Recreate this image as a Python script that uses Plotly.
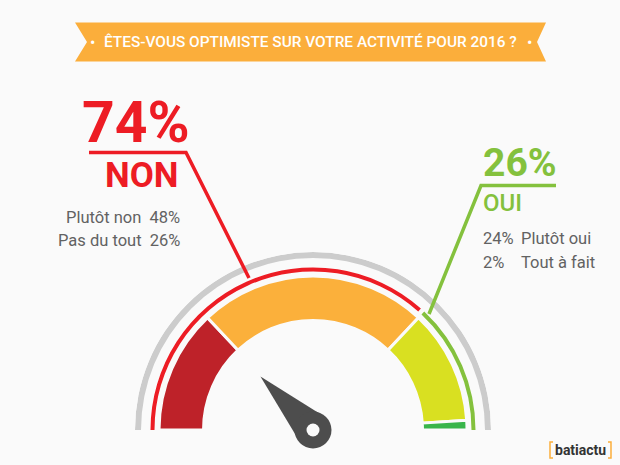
import numpy as np
import plotly.graph_objects as go

# answers, ordered left to right along the gauge
labels = ["Pas du tout", "Plutôt non", "Plutôt oui", "Tout à fait"]
shares = [26, 48, 24, 2]
colors = ["#BE2229", "#FBB03B", "#D9E021", "#39B54A"]
totals = [74, 26]
total_names = ["NON", "OUI"]
title = "ÊTES-VOUS OPTIMISTE SUR VOTRE ACTIVITÉ POUR 2016 ?"
needle_share = 25.3

W, H = 620, 465
BG = "#FAFAFA"
RED, GREEN, ORANGE, GREY = "#ED1C24", "#84C13D", "#FBAE3B", "#626262"
FONT = "Roboto"


def px(x):
    return x / W


def py(y):
    return 1 - y / H


def poly(points, color, close=True, line=None, width=0):
    path = "M " + " L ".join(f"{px(x):.5f},{py(y):.5f}" for x, y in points)
    if close:
        path += " Z"
    return dict(type="path", xref="paper", yref="paper", path=path,
                fillcolor=color if close else "rgba(0,0,0,0)",
                line=dict(color=line or color, width=width), layer="above")


def label(x, y, text, size, color, anchor="left", weight=400):
    return dict(x=px(x), y=py(y), xref="paper", yref="paper", text=text, showarrow=False,
                xanchor=anchor, yanchor="middle", borderpad=0,
                font=dict(family=FONT, size=size, color=color, weight=weight))


def dot(cx, cy, r, color):
    return dict(type="circle", xref="paper", yref="paper", x0=px(cx - r), x1=px(cx + r),
                y0=py(cy + r), y1=py(cy - r), fillcolor=color, line_width=0, layer="above")


# gauge centre and radius of the outer ring, in pixels
CX, CY, R = 313, 430, 178

fig = go.Figure()

# scale: 100 % spans the half circle
ends = np.cumsum(shares) * 1.8
widths = np.array(shares) * 1.8
fig.add_trace(go.Barpolar(theta=ends - widths / 2, width=widths, r=[44.5] * len(shares), base=109.5,
                          marker=dict(color=colors, line=dict(color=BG, width=3)),
                          showlegend=False, hoverinfo="skip"))
fig.add_trace(go.Barpolar(theta=[90], width=[180], r=[6], base=172, marker=dict(color="#CCCCCC", line_width=0),
                          showlegend=False, hoverinfo="skip"))
# thin arcs for the two totals, red stops just short of the green one
ring_ends = np.cumsum(totals) * 1.8
ring_widths = np.array(totals) * 1.8
gap = np.array([1.6, 0])
fig.add_trace(go.Barpolar(theta=ring_ends - ring_widths / 2 - gap / 2, width=ring_widths - gap, r=[4, 4],
                          base=[158.5, 158.5], marker=dict(color=[RED, GREEN], line_width=0),
                          showlegend=False, hoverinfo="skip"))

# needle
a = np.deg2rad(needle_share * 1.8)
tip = (CX - 75 * np.cos(a), CY - 75 * np.sin(a))
side = (np.sin(a) * 18, -np.cos(a) * 18)
needle = [tip, (CX + side[0], CY + side[1]), (CX - side[0], CY - side[1])]

shapes = [
    poly([(75, 22.5), (546, 22.5), (537, 42), (546, 61.5), (75, 61.5), (87, 42)], ORANGE),
    poly([(89, 152.5), (186, 152.5), (249, 278)], RED, close=False, width=3.5),
    poly([(556, 185.5), (481, 185.5), (429, 314)], GREEN, close=False, width=3.5),
    poly(needle, "#4D4D4D"),
    dot(CX, CY, 18.5, "#4D4D4D"),
    dot(CX, CY, 6.5, BG),
    # logo brackets
    poly([(553, 442), (550, 442), (550, 458), (553, 458)], ORANGE, close=False, width=1.5),
    poly([(608, 442), (611, 442), (611, 458), (608, 458)], ORANGE, close=False, width=1.5),
]

annotations = [
    label(310.5, 42, title, 15.4, "#FFFFFF", "center", 500),
    label(92, 42, "•", 16, "#FFFFFF", "center"),
    label(529, 42, "•", 16, "#FFFFFF", "center"),
    label(135.5, 122, f"{totals[0]}%", 57, RED, "center", 700),
    label(142, 176, total_names[0], 35, RED, "center", 700),
    label(181, 217, f"{labels[1]}  {shares[1]}%", 16.5, GREY, "right"),
    label(181, 240, f"{labels[0]}  {shares[0]}%", 16.5, GREY, "right"),
    label(519.5, 163, f"{totals[1]}%", 39, GREEN, "center", 700),
    label(482, 203, total_names[1], 24, GREEN, "left", 500),
    label(482, 238.5, f"{shares[2]}%", 16.5, GREY),
    label(520, 238.5, labels[2], 16.5, GREY),
    label(482, 262, f"{shares[3]}%", 16.5, GREY),
    label(520, 262, labels[3], 16.5, GREY),
    label(580.5, 449.5, "batiactu", 14, "#333333", "center", 700),
]

fig.update_layout(
    width=W, height=H, margin=dict(l=0, r=0, t=0, b=0),
    paper_bgcolor=BG, plot_bgcolor=BG, showlegend=False,
    shapes=shapes, annotations=annotations,
    polar=dict(
        domain=dict(x=[px(CX - R), px(CX + R)], y=[py(CY), py(CY - R)]),
        sector=[0, 180], bgcolor="rgba(0,0,0,0)",
        radialaxis=dict(visible=False, range=[0, R]),
        angularaxis=dict(visible=False, direction="clockwise", rotation=180),
        barmode="overlay",
    ),
)

fig.write_html("out.html", config=dict(displayModeBar=False),
               post_script="document.body.style.margin='0';document.body.style.background='#FAFAFA';")
